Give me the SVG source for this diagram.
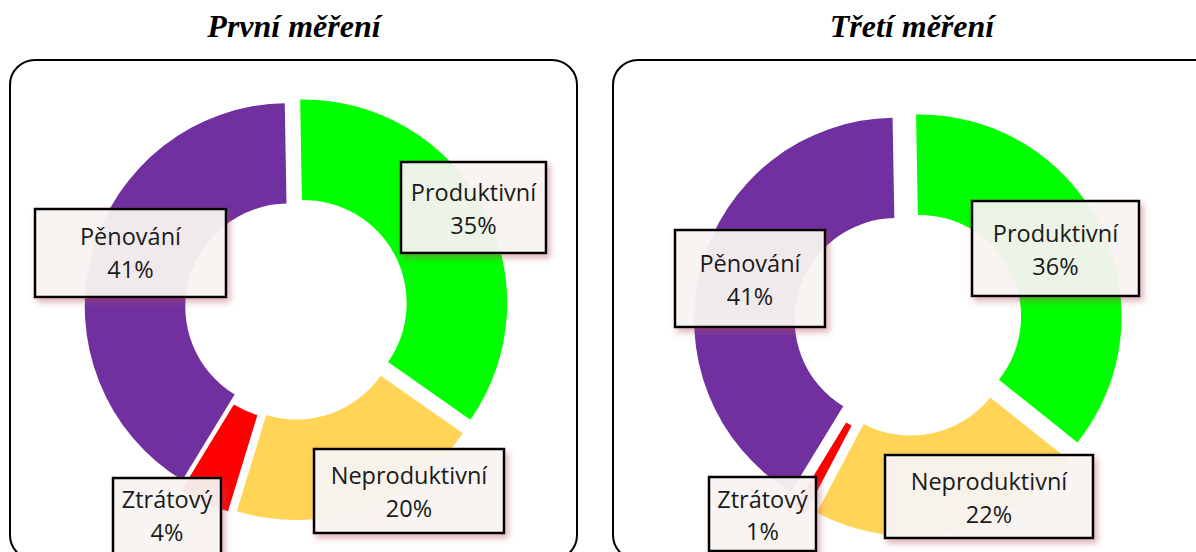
<svg xmlns="http://www.w3.org/2000/svg" width="1196" height="552" viewBox="0 0 1196 552">
  <defs>
    <filter id="shadow" x="-20%" y="-20%" width="150%" height="150%">
      <feDropShadow dx="3" dy="4" stdDeviation="3" flood-color="#b04858" flood-opacity="0.45"/>
    </filter>
  </defs>
  <style>
    .panel { fill: #ffffff; stroke: #000000; stroke-width: 2; }
    .title { font-family: "Liberation Serif", "Times New Roman", serif; font-weight: bold; font-style: italic; font-size: 32px; fill: #000000; text-anchor: middle; }
    .box { fill: #f8f6f4; fill-opacity: 0.92; stroke: #000000; stroke-width: 2.5; filter: url(#shadow); }
    .lbl { font-family: "Open Sans", "Noto Sans", sans-serif; font-size: 23.5px; fill: #1a1a1a; text-anchor: middle; }
    .green { fill: #00ff00; }
    .yellow { fill: #ffd457; }
    .red { fill: #ff0000; }
    .purple { fill: #7030a0; }
  </style>

  <!-- panels -->
  <rect class="panel" x="10" y="60" width="567" height="500" rx="25" ry="25"/>
  <rect class="panel" x="613" y="60" width="620" height="500" rx="25" ry="25"/>

  <text class="title" x="294" y="37">První měření</text>
  <text class="title" x="912" y="37">Třetí měření</text>

  <!-- left donut -->
  <g id="chart1-slices">
    <path id="c1-produktivni" class="green" d="M300.15,99.53 A203.5,203.5 0 0 1 470.40,419.72 L388.07,362.08 A103,103 0 0 0 301.90,200.02 Z"/>
    <path id="c1-neproduktivni" class="yellow" d="M463.00,433.32 A203.5,203.5 0 0 1 236.80,511.21 L266.19,415.10 A103,103 0 0 0 380.67,375.68 Z"/>
    <path id="c1-ztratovy" class="red" d="M228.00,511.21 A203.5,203.5 0 0 1 181.47,490.30 L233.84,404.52 A103,103 0 0 0 257.39,415.10 Z"/>
    <path id="c1-penovani" class="purple" d="M182.27,480.30 A203.5,203.5 0 0 1 284.75,103.13 L286.50,203.62 A103,103 0 0 0 234.64,394.52 Z"/>
  </g>

  <!-- right donut -->
  <g id="chart2-slices">
    <path id="c2-produktivni" class="green" d="M916.08,114.43 A202,202 0 0 1 1077.47,442.42 L998.92,379.72 A101.5,101.5 0 0 0 917.83,214.92 Z"/>
    <path id="c2-neproduktivni" class="yellow" d="M1068.77,460.12 A202,202 0 0 1 816.69,512.79 L863.56,423.89 A101.5,101.5 0 0 0 990.22,397.42 Z"/>
    <path id="c2-ztratovy" class="red" d="M804.79,514.49 A202,202 0 0 1 793.76,508.22 L846.12,422.44 A101.5,101.5 0 0 0 851.66,425.59 Z"/>
    <path id="c2-penovani" class="purple" d="M790.86,492.02 A202,202 0 0 1 892.58,117.63 L894.33,218.12 A101.5,101.5 0 0 0 843.22,406.24 Z"/>
  </g>

  <g id="connectors"></g>

  <!-- left labels -->
  <g id="c1-label-produktivni">
    <rect class="box" x="401" y="162" width="145" height="91"/>
    <text class="lbl" x="473.5" y="201">Produktivní</text>
    <text class="lbl" x="473.5" y="234">35%</text>
  </g>
  <g id="c1-label-penovani">
    <rect class="box" x="35" y="209" width="191" height="88"/>
    <text class="lbl" x="130.5" y="245">Pěnování</text>
    <text class="lbl" x="130.5" y="278">41%</text>
  </g>
  <g id="c1-label-neproduktivni">
    <rect class="box" x="314" y="449" width="190" height="84"/>
    <text class="lbl" x="409" y="484">Neproduktivní</text>
    <text class="lbl" x="409" y="517">20%</text>
  </g>
  <g id="c1-label-ztratovy">
    <rect class="box" x="113" y="478" width="108" height="84"/>
    <text class="lbl" x="167" y="508">Ztrátový</text>
    <text class="lbl" x="167" y="541">4%</text>
  </g>

  <!-- right labels -->
  <g id="c2-label-produktivni">
    <rect class="box" x="972" y="201" width="167" height="95"/>
    <text class="lbl" x="1055.5" y="242">Produktivní</text>
    <text class="lbl" x="1055.5" y="275">36%</text>
  </g>
  <g id="c2-label-penovani">
    <rect class="box" x="675" y="230" width="150" height="97"/>
    <text class="lbl" x="750" y="272">Pěnování</text>
    <text class="lbl" x="750" y="305">41%</text>
  </g>
  <g id="c2-label-neproduktivni">
    <rect class="box" x="885" y="455" width="208" height="83"/>
    <text class="lbl" x="989" y="490">Neproduktivní</text>
    <text class="lbl" x="989" y="523">22%</text>
  </g>
  <g id="c2-label-ztratovy">
    <rect class="box" x="709" y="477" width="107" height="74"/>
    <text class="lbl" x="762.5" y="508">Ztrátový</text>
    <text class="lbl" x="762.5" y="540">1%</text>
  </g>
</svg>
